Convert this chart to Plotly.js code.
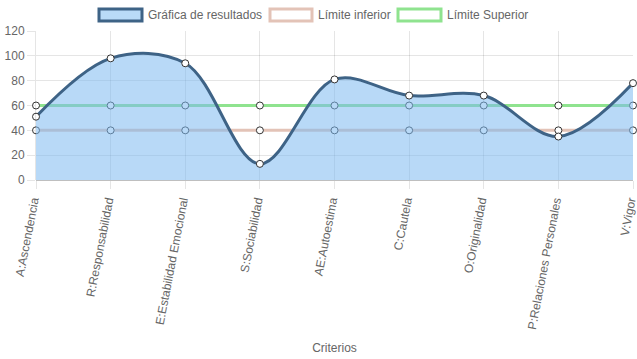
<!DOCTYPE html>
<html>
<head>
<meta charset="utf-8">
<script src="https://cdn.plot.ly/plotly-3.0.1.min.js"></script>
<style>html,body{margin:0;padding:0;background:#fff;}#chart{width:637px;height:359px;}</style>
</head>
<body>
<div id="chart"></div>
<script>
const categories = ["A:Ascendencia","R:Responsabilidad","E:Estabilidad Emocional","S:Sociabilidad","AE:Autoestima","C:Cautela","O:Originalidad","P:Relaciones Personales","V:Vigor"];
const resultados = [51, 98, 94, 13, 81, 68, 68, 35, 78];
const limiteInferior = [40, 40, 40, 40, 40, 40, 40, 40, 40];
const limiteSuperior = [60, 60, 60, 60, 60, 60, 60, 60, 60];
const seriesNames = ["Gráfica de resultados", "Límite inferior", "Límite Superior"];
const yTicks = [0, 20, 40, 60, 80, 100, 120];

const font = {family: "Liberation Sans, Arial, Helvetica, sans-serif", size: 12, color: "#666"};
const markerStyle = {size: 7, color: "#fff", line: {color: "#333", width: 1}};

const traces = [
  {x: categories, y: limiteSuperior, type: "scatter", mode: "lines+markers", name: seriesNames[2],
   line: {color: "#8fe38f", width: 3}, marker: markerStyle, showlegend: false, cliponaxis: false},
  {x: categories, y: limiteInferior, type: "scatter", mode: "lines+markers", name: seriesNames[1],
   line: {color: "#e3c3b7", width: 3}, marker: markerStyle, showlegend: false, cliponaxis: false},
  {x: categories, y: resultados, type: "scatter", mode: "lines+markers", name: seriesNames[0],
   line: {color: "#3e6386", width: 3, shape: "spline", smoothing: 1}, fill: "tozeroy",
   fillcolor: "rgba(125,185,240,0.55)", marker: markerStyle, showlegend: false, cliponaxis: false}
];

// legend drawn as boxes + labels (Chart.js style)
const legendItems = [
  {x0: 99, x1: 142, fill: "#b9dbf7", border: "#3e6386", label: seriesNames[0]},
  {x0: 270, x1: 312, fill: "#ffffff", border: "#e3c3b7", label: seriesNames[1]},
  {x0: 398, x1: 441, fill: "#ffffff", border: "#8fe38f", label: seriesNames[2]}
];
const W = 637, H = 359;
const shapes = legendItems.map(it => ({
  type: "rect", xref: "paper", yref: "paper",
  x0: (it.x0 - 36) / (633 - 36), x1: (it.x1 - 36) / (633 - 36),
  y0: (180 - 21) / (180 - 31), y1: (180 - 9) / (180 - 31),
  fillcolor: it.fill, line: {color: it.border, width: 3}
}));
const annotations = legendItems.map(it => ({
  xref: "paper", yref: "paper", showarrow: false, xanchor: "left", yanchor: "middle",
  x: (it.x1 + 4 - 36) / (633 - 36), y: (180 - 15) / (180 - 31),
  text: it.label, font: font
}));

const layout = {
  width: W, height: H,
  margin: {l: 36, r: 4, t: 31, b: 179},
  paper_bgcolor: "#fff", plot_bgcolor: "#fff",
  font: font,
  showlegend: false,
  shapes: shapes,
  annotations: annotations,
  xaxis: {
    type: "category", range: [0, categories.length - 1],
    tickangle: -79, tickfont: font, ticklabelshift: -3,
    showgrid: true, gridcolor: "rgba(0,0,0,0.1)",
    ticks: "outside", ticklen: 8, tickcolor: "rgba(0,0,0,0.1)",
    showline: false, zeroline: false,
    title: {text: "Criterios", font: font, standoff: 13},
    automargin: false
  },
  yaxis: {
    range: [0, 120], tickvals: yTicks, ticktext: yTicks.map(String),
    tickfont: font, showgrid: true, gridcolor: "rgba(0,0,0,0.1)",
    ticks: "outside", ticklen: 8, tickcolor: "rgba(0,0,0,0.1)",
    zeroline: true, zerolinecolor: "rgba(0,0,0,0.25)", zerolinewidth: 1,
    showline: true, linecolor: "rgba(0,0,0,0.1)", linewidth: 1,
    automargin: false
  }
};

Plotly.newPlot("chart", traces, layout, {displayModeBar: false, staticPlot: true});
</script>
</body>
</html>
